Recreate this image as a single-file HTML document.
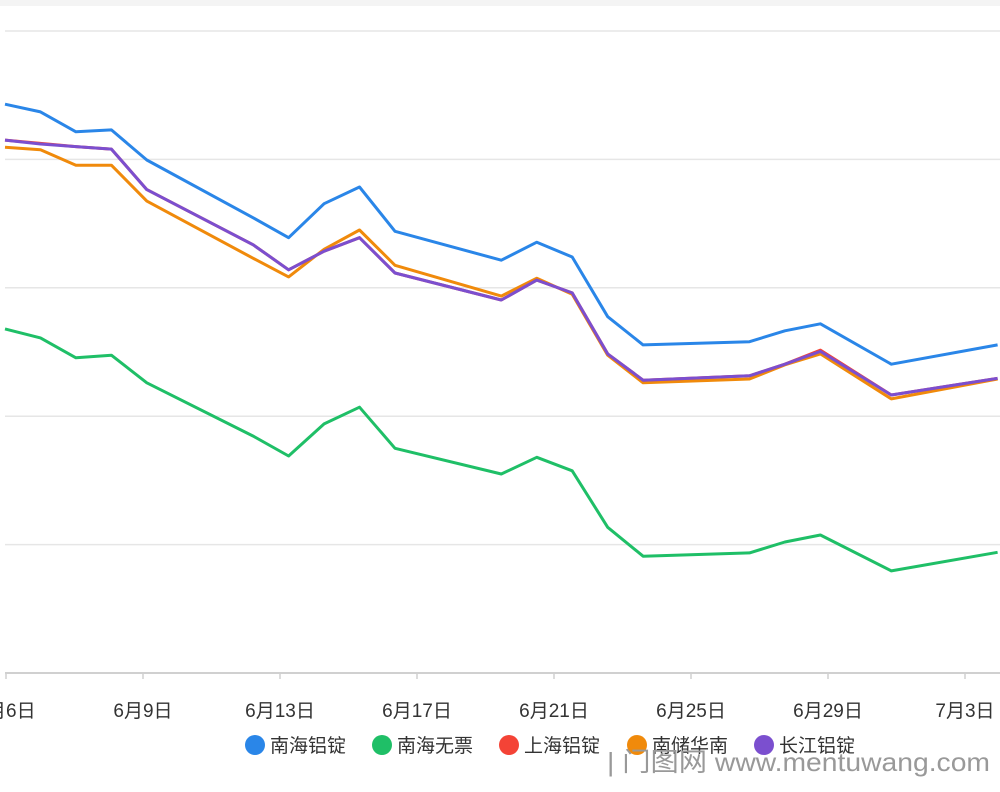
<!DOCTYPE html>
<html><head><meta charset="utf-8">
<style>
html,body{margin:0;padding:0;background:#fff;}
body{width:1000px;height:787px;overflow:hidden;font-family:"Liberation Sans","Noto Sans CJK SC",sans-serif;}
svg text{font-family:"Liberation Sans","Noto Sans CJK SC",sans-serif;}
</style></head>
<body>
<svg id="chart" width="1000" height="787" xmlns="http://www.w3.org/2000/svg">
<rect x="0" y="0" width="1000" height="6" fill="#f4f4f4"/>
<g id="grid"></g>
<g id="xaxis"></g>
<g id="series"></g>
<g id="legend"></g>
<text x="607" y="771" font-size="26" fill="#999" textLength="383" lengthAdjust="spacingAndGlyphs">| 门图网  www.mentuwang.com</text>
</svg>
<script>
const idx = [0,1,2,3,4,7,8,9,10,11,14,15,16,17,18,21,22,23,25,28];
const tickLabels = ["6月6日","6月9日","6月13日","6月17日","6月21日","6月25日","6月29日","7月3日"];
const yTicks = [17800,18000,18200,18400,18600,18800];
const seriesNames = ["南海铝锭","南海无票","上海铝锭","南储华南","长江铝锭"];
const colors = ["#2a86e8","#1fbf67","#f44336","#f08a0b","#7b4fcf"];
const nanhai = [18686,18674,18643,18646,18599,18509,18478,18531,18557,18488,18443,18471,18448,18355,18311,18316,18333,18344,18281,18311];
const nanhaiNoTax = [18336,18322,18291,18295,18252,18169,18138,18188,18214,18150,18110,18136,18115,18027,17982,17987,18004,18015,17959,17988];
const shanghai = [18630,18625,18620,18616,18553,18467,18428,18457,18478,18423,18381,18412,18392,18297,18256,18263,18281,18303,18233,18259];
const nanchu = [18619,18615,18591,18591,18535,18446,18417,18460,18490,18435,18387,18415,18390,18295,18252,18258,18280,18297,18227,18258];
const changjiang = [18630,18624,18620,18616,18553,18467,18428,18457,18478,18423,18381,18412,18392,18297,18256,18263,18281,18301,18233,18259];
const allSeries = [nanhai,nanhaiNoTax,shanghai,nanchu,changjiang];
const drawOrder = [0,1,3,2,4];

const NS="http://www.w3.org/2000/svg";
const x = i => 5 + i*35.45;
const y = v => 673 - (v-17800)/1000*642;
const tickX = j => 6 + j*137;
function mk(tag, attrs, parent){const e=document.createElementNS(NS,tag);for(const k in attrs)e.setAttribute(k,attrs[k]);parent.appendChild(e);return e;}

const grid=document.getElementById('grid');
yTicks.forEach((t,k)=>{
  const l=mk('line',{x1:5,x2:1000,y1:y(t),y2:y(t),stroke:k===0?'#d0d0d0':'#e6e6e6','stroke-width':k===0?2:1.5},grid);
  
  
});
const xa=document.getElementById('xaxis');
tickLabels.forEach((s,j)=>{
  const tk=mk('line',{x1:tickX(j),x2:tickX(j),y1:673,y2:679,stroke:'#d0d0d0','stroke-width':1.5},xa);
  
  
  const t=mk('text',{x:tickX(j),y:717,'font-size':19,fill:'#333','text-anchor':'middle'},xa);
  t.textContent=s;
  
  
});
const sg=document.getElementById('series');
drawOrder.forEach(s=>{
  const d=allSeries[s].map((v,k)=>(k?'L':'M')+x(idx[k]).toFixed(1)+','+y(v).toFixed(1)).join(' ');
  const p=mk('path',{d:d,fill:'none',stroke:colors[s],'stroke-width':3,'stroke-linejoin':'round'},sg);
  
  
});
const lg=document.getElementById('legend');
const lx=[255,382,509,637,764];
seriesNames.forEach((n,s)=>{
  const c=mk('circle',{cx:lx[s],cy:745,r:10,fill:colors[s]},lg);
  
  
  const t=mk('text',{x:lx[s]+15,y:752,'font-size':19,fill:'#333'},lg);
  t.textContent=n;
  
  
});
</script>
</body></html>
